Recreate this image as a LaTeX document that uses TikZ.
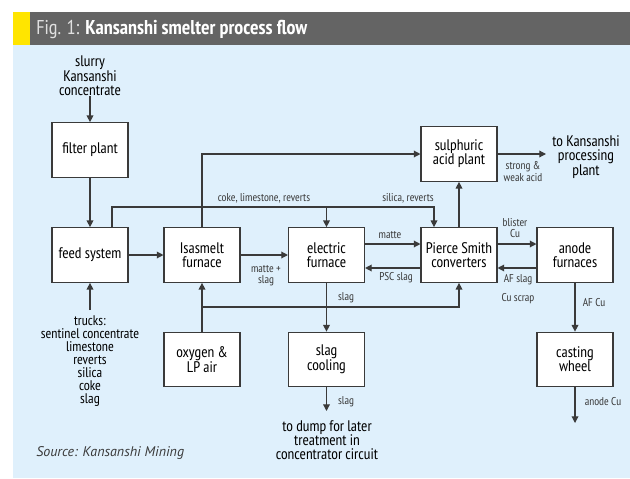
\documentclass[tikz,border=0pt]{standalone}
\usepackage{fontspec}
\setmainfont{PT Sans Narrow}
\newfontfamily\srcfont{PT Sans}
\usetikzlibrary{arrows.meta,positioning}
\definecolor{panelblue}{HTML}{DFF0FC}
\definecolor{titlegray}{HTML}{646464}
\definecolor{figyellow}{HTML}{FFE500}
\definecolor{linegray}{HTML}{3A3A3A}

\begin{document}
\begin{tikzpicture}[x=0.75pt, y=-0.75pt,
    proc/.style={draw=linegray, fill=white, line width=0.8pt, minimum width=57pt,
      minimum height=41pt, inner sep=1pt, align=center, font=\fontsize{11.5}{10.5}\selectfont},
    flow/.style={draw=linegray, line width=0.9pt, -{Triangle[length=5pt,width=5pt]}},
    tag/.style={font=\fontsize{8.5}{8.5}\selectfont, text=linegray, inner sep=0pt, align=center},
    note/.style={font=\fontsize{11.5}{10}\selectfont, inner sep=0pt, align=center}]

  % Background panel and title bar
  \useasboundingbox (0,0) rectangle (630,478);
  \fill[panelblue] (13,45) rectangle (630,478);
  \fill[titlegray] (13,12) rectangle (630,45);
  \fill[figyellow] (13,12) rectangle (30,45);
  \node[anchor=west, inner sep=0pt, font=\fontsize{15}{16}\selectfont] (title) at (36,29)
    {\textcolor{white!88!black}{Fig. 1:} \textcolor{white}{\bfseries Kansanshi smelter process flow}};

  % Define process units
  \node[proc] (filter) at (90,150) {filter plant};
  \node[proc] (feed) at (90,255) {feed system};
  \node[proc] (isasmelt) at (202,255) {Isasmelt\\furnace};
  \node[proc] (electric) at (326.5,255) {electric\\furnace};
  \node[proc] (psc) at (459,255) {Pierce Smith\\converters};
  \node[proc] (anode) at (575,255) {anode\\furnaces};
  \node[proc] (acid) at (459,154) {sulphuric\\acid plant};
  \node[proc] (oxygen) at (202,359.5) {oxygen \&\\LP air};
  \node[proc] (cooling) at (326.5,359.5) {slag\\cooling};
  \node[proc] (casting) at (575,359.5) {casting\\wheel};

  % Inputs and outputs
  \node[note] (slurry) at (90,75.5) {slurry\\Kansanshi\\concentrate};
  \node[note, font=\fontsize{10.5}{9.75}\selectfont] (trucks) at (90,361)
    {trucks:\\sentinel concentrate\\limestone\\reverts\\silica\\coke\\slag};
  \node[note, font=\fontsize{11.5}{10.6}\selectfont] (toplant) at (586,157)
    {to Kansanshi\\processing\\plant};
  \node[note, font=\fontsize{11.5}{10.6}\selectfont] (dump) at (327,440)
    {to dump for later\\treatment in\\concentrator circuit};
  \node[anchor=west, inner sep=0pt, text=linegray, font=\srcfont\itshape\fontsize{10.5}{11}\selectfont]
    (source) at (36,453) {Source: Kansanshi Mining};
  \coordinate (trucksin) at (90,310);
  \coordinate (acidout) at (546,154);
  \coordinate (dumpin) at (326.5,411);
  \coordinate (castout) at (575,423);

  % Connect the nodes
  \draw[flow] (slurry) -- (filter);
  \draw[flow] (filter) -- (feed);
  \draw[flow] (trucksin) -- (feed);
  \draw[flow] (feed) -- (isasmelt);
  \draw[flow] (isasmelt) -- (electric);
  \draw[flow] (electric.east |- 0,244) -- (psc.west |- 0,244);
  \draw[flow] (psc.west |- 0,268) -- (electric.east |- 0,268);
  \draw[flow] (psc.east |- 0,244) -- (anode.west |- 0,244);
  \draw[flow] (anode.west |- 0,268) -- (psc.east |- 0,268);
  \draw[flow] (psc) -- (acid);
  \draw[flow] (acid) -- (acidout);
  \draw[flow] (isasmelt) |- (acid);
  \draw[flow] (feed.north -| 112,0) |- (434,207) -- (psc.north -| 434,0);
  \draw[flow] (electric.north |- 0,207) -- (electric);
  \draw[flow] (oxygen) -- (isasmelt);
  \draw[flow] (oxygen.north |- 0,307) -| (psc);
  \draw[flow] (electric) -- (cooling);
  \draw[flow] (cooling) -- (dumpin);
  \draw[flow] (anode) -- (casting);
  \draw[flow] (casting) -- (castout);

  % Stream labels
  \node[tag] at (264,198) {coke, limestone, reverts};
  \node[tag] at (408,198) {silica, reverts};
  \node[tag] at (266,276) {matte +\\slag};
  \node[tag] at (390,235) {matte};
  \node[tag] at (396,278) {PSC slag};
  \node[tag] at (515,228) {blister\\Cu};
  \node[tag] at (518,280) {AF slag};
  \node[tag] at (518,299) {Cu scrap};
  \node[tag] at (346,298) {slag};
  \node[tag] at (523,171.5) {strong \&\\weak acid};
  \node[tag] at (594,303) {AF Cu};
  \node[tag] at (603,402) {anode Cu};
  \node[tag] at (346,402) {slag};
\end{tikzpicture}
\end{document}
